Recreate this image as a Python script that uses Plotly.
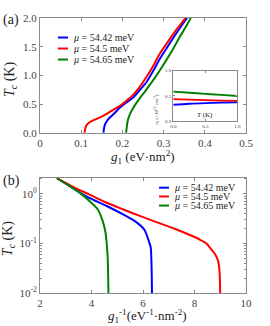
import plotly.graph_objects as go

# ---------------- data ----------------
labels = ["<i>μ</i> = 54.42 meV", "<i>μ</i> = 54.5 meV", "<i>μ</i> = 54.65 meV"]
colors = ["#0000FF", "#FF0000", "#008000"]

# panel (a): Tc vs g1
a_blue_g = [0.154, 0.155, 0.157, 0.162, 0.170, 0.182, 0.194, 0.210, 0.227, 0.243, 0.259, 0.275, 0.291, 0.307, 0.323, 0.340, 0.357]
a_blue_T = [0.0, 0.06, 0.13, 0.20, 0.27, 0.35, 0.44, 0.53, 0.62, 0.75, 0.89, 1.08, 1.29, 1.47, 1.65, 1.83, 2.0]
a_red_g = [0.108, 0.109, 0.112, 0.118, 0.130, 0.146, 0.162, 0.178, 0.194, 0.210, 0.227, 0.243, 0.259, 0.275, 0.291, 0.307, 0.323, 0.338, 0.353]
a_red_T = [0.0, 0.05, 0.12, 0.17, 0.22, 0.27, 0.33, 0.40, 0.47, 0.56, 0.67, 0.81, 0.98, 1.17, 1.38, 1.55, 1.72, 1.86, 2.0]
a_green_g = [0.209, 0.210, 0.213, 0.217, 0.222, 0.232, 0.243, 0.255, 0.267, 0.279, 0.291, 0.307, 0.323, 0.340, 0.355, 0.366]
a_green_T = [0.0, 0.07, 0.21, 0.30, 0.38, 0.50, 0.61, 0.72, 0.84, 0.96, 1.09, 1.27, 1.46, 1.68, 1.86, 2.0]

# inset: n_s vs T
ins_T = [0.0, 0.25, 0.5, 0.75, 1.0]
ins_blue = [0.325, 0.345, 0.357, 0.365, 0.37]
ins_red = [0.435, 0.425, 0.415, 0.408, 0.40]
ins_green = [0.583, 0.562, 0.540, 0.518, 0.498]

# panel (b): Tc vs 1/g1
b_blue_x = [2.66, 3.13, 3.50, 3.91, 4.57, 5.21, 5.74, 6.06, 6.23, 6.30, 6.33, 6.35]
b_blue_T = [2.065, 1.46, 1.10, 0.83, 0.575, 0.389, 0.269, 0.186, 0.11, 0.083, 0.04, 0.009]
b_red_x = [2.68, 3.0, 3.4, 3.91, 4.5, 5.21, 5.85, 6.52, 7.2, 7.82, 8.2, 8.47, 8.62, 8.8, 8.9, 8.95, 8.98, 9.0]
b_red_T = [2.065, 1.66, 1.29, 0.977, 0.692, 0.49, 0.363, 0.269, 0.2, 0.148, 0.12, 0.1, 0.0794, 0.0603, 0.0468, 0.0355, 0.0224, 0.009]
b_green_x = [2.65, 3.26, 3.60, 3.91, 4.24, 4.43, 4.54, 4.59, 4.63, 4.66]
b_green_T = [2.065, 1.318, 1.0, 0.724, 0.49, 0.288, 0.17, 0.1, 0.05, 0.009]

a_xticks = [0, 0.1, 0.2, 0.3, 0.4, 0.5]
a_xtext = ["0", "0.1", "0.2", "0.3", "0.4", "0.5"]
a_yticks = [0.0, 0.5, 1.0, 1.5, 2.0]
b_xticks = [2, 4, 6, 8, 10]
b_yticks = [0.01, 0.1, 1]
b_ytext = ["10<sup>-2</sup>", "10<sup>-1</sup>", "10<sup>0</sup>"]
b_minor = [0.02, 0.03, 0.04, 0.05, 0.06, 0.07, 0.08, 0.09, 0.2, 0.3, 0.4, 0.5, 0.6, 0.7, 0.8, 0.9, 2]

FONT = "Liberation Serif"
AX = "#8a8a8a"
TK = "#444444"
TT = "#222222"

fig = go.Figure()

for g, T, c in [(a_blue_g, a_blue_T, colors[0]), (a_red_g, a_red_T, colors[1]), (a_green_g, a_green_T, colors[2])]:
    fig.add_trace(go.Scatter(x=g, y=T, mode="lines", line=dict(color=c, width=2, shape="spline", smoothing=0.6),
                             xaxis="x", yaxis="y", showlegend=False))
for y, c in [(ins_blue, colors[0]), (ins_red, colors[1]), (ins_green, colors[2])]:
    fig.add_trace(go.Scatter(x=ins_T, y=y, mode="lines", line=dict(color=c, width=1.8, shape="spline"),
                             xaxis="x3", yaxis="y3", showlegend=False))
for x, T, c in [(b_blue_x, b_blue_T, colors[0]), (b_red_x, b_red_T, colors[1]), (b_green_x, b_green_T, colors[2])]:
    fig.add_trace(go.Scatter(x=x, y=T, mode="lines", line=dict(color=c, width=2, shape="spline", smoothing=0.6),
                             xaxis="x2", yaxis="y2", showlegend=False))

common = dict(showline=True, linecolor=AX, linewidth=1, mirror="ticks", ticks="inside", tickcolor=AX,
              ticklen=3, showgrid=False, zeroline=False, tickfont=dict(family=FONT, size=11, color=TK))
inset = dict(showline=True, linecolor=AX, mirror="ticks", ticks="inside", ticklen=2, tickcolor=AX, showgrid=False,
             zeroline=False, tickfont=dict(family=FONT, size=5, color=TK))

fig.update_layout(
    width=270, height=326,
    margin=dict(l=40, r=24, t=12, b=33),
    paper_bgcolor="white", plot_bgcolor="white",
    showlegend=False,
    xaxis=dict(domain=[0, 1], range=[0, 0.5], tickvals=a_xticks, ticktext=a_xtext, anchor="y", **common),
    yaxis=dict(domain=[0.5826, 1], range=[0, 2.0], tickvals=a_yticks, tickformat=".1f", anchor="x", **common),
    xaxis2=dict(domain=[0, 1], range=[2, 10], tickvals=b_xticks, anchor="y2", **common),
    yaxis2=dict(domain=[0, 0.42], type="log", range=[-2, 0.33], tickvals=b_yticks, ticktext=b_ytext, anchor="x2",
                minor=dict(tickvals=b_minor, ticks="inside", ticklen=2, tickcolor=AX), **common),
    xaxis3=dict(domain=[0.647, 0.958], range=[0, 1], tickvals=[0, 0.5, 1.0], tickformat=".1f", anchor="y3", **inset),
    yaxis3=dict(domain=[0.6246, 0.809], range=[0, 1], tickvals=[0, 0.5, 1.0], tickformat=".1f", anchor="x3", **inset),
)

# inset background
fig.add_shape(type="rect", xref="x3 domain", yref="y3 domain", x0=0, x1=1, y0=0, y1=1,
              fillcolor="white", line=dict(width=0), layer="below")

# axis titles
def title(text, x, y, size, angle=0):
    fig.add_annotation(xref="paper", yref="paper", x=x, y=y, text=text, showarrow=False, textangle=angle,
                       xanchor="center", yanchor="middle", font=dict(family=FONT, size=size, color=TT))

title("<i>g</i><sub>1</sub> (eV·nm<sup>2</sup>)", 0.5, 0.496, 13)
title("<i>T</i><sub><i>c</i></sub> (K)", -0.146, 0.778, 14, -90)
title("<i>g</i><sub>1</sub><sup>-1</sup>(eV<sup>-1</sup>·nm<sup>-2</sup>)", 0.52, -0.082, 13)
title("<i>T</i><sub><i>c</i></sub> (K)", -0.155, 0.196, 14, -90)

# manual legends
def add_legend(x0, x1, xt, ys):
    for lab, c, y in zip(labels, colors, ys):
        fig.add_shape(type="line", xref="paper", yref="paper", x0=x0, x1=x1, y0=y, y1=y,
                      line=dict(color=c, width=2))
        fig.add_annotation(xref="paper", yref="paper", x=xt, y=y, text=lab, showarrow=False,
                           xanchor="left", yanchor="middle", font=dict(family=FONT, size=10, color=TT))

add_legend(0.087, 0.136, 0.150, [0.929, 0.889, 0.849])
add_legend(0.578, 0.626, 0.643, [0.383, 0.351, 0.318])

# inset labels
fig.add_annotation(xref="paper", yref="paper", x=0.565, y=0.73, textangle=-90, showarrow=False,
                   text="<i>n</i><sub>s</sub> (×10<sup>12</sup> cm<sup>-2</sup>)", font=dict(family=FONT, size=5, color="#333"))
fig.add_annotation(xref="x3", yref="y3", x=0.5, y=0.13, showarrow=False, text="<i>T</i> (K)",
                   font=dict(family=FONT, size=7, color=TT))

# panel labels
fig.add_annotation(xref="paper", yref="paper", x=-0.19, y=0.993, xanchor="left", yanchor="middle", showarrow=False,
                   text="(a)", font=dict(family=FONT, size=14, color=TT))
fig.add_annotation(xref="paper", yref="paper", x=-0.19, y=0.409, xanchor="left", yanchor="middle", showarrow=False,
                   text="(b)", font=dict(family=FONT, size=14, color=TT))

fig.write_html("out.html", config={"displayModeBar": False},
               post_script="document.body.style.margin='0';document.body.style.overflow='hidden';")
